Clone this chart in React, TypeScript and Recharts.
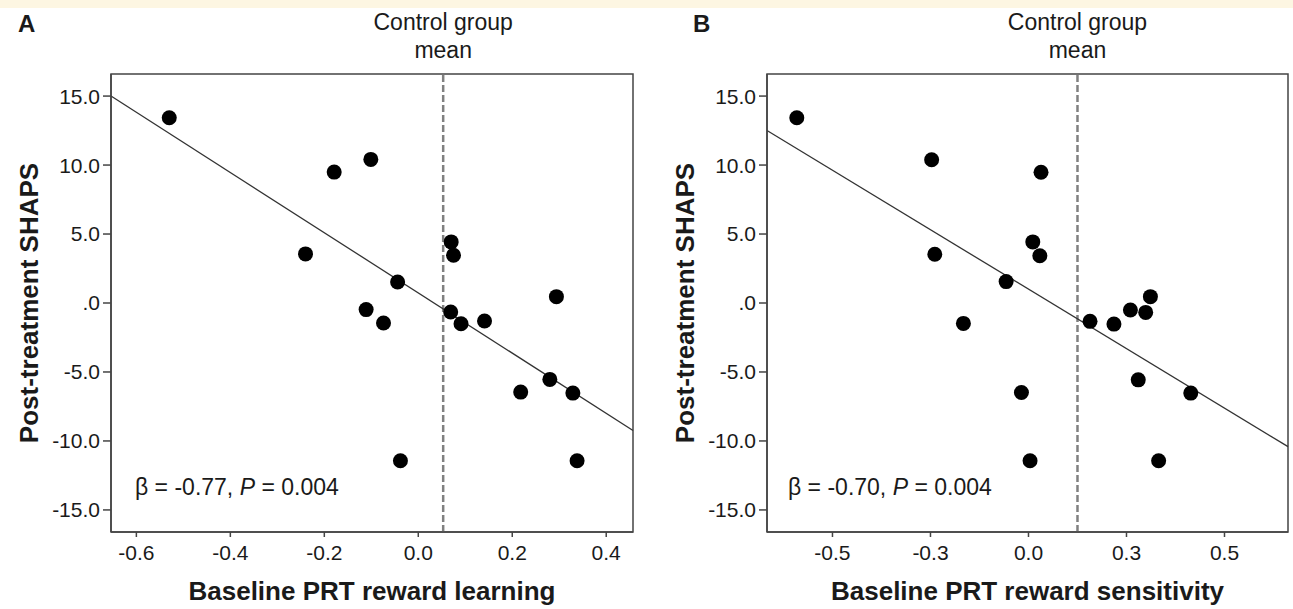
import React from "react";
import {
  ScatterChart,
  Scatter,
  XAxis,
  YAxis,
  ReferenceLine,
  ReferenceArea,
  Label,
} from "recharts";

// panel A: baseline PRT reward learning vs post-treatment SHAPS
const rewardLearning = [
  -0.53, -0.179, -0.24, -0.101, -0.044, -0.111, -0.074, 0.07, 0.075, 0.069,
  0.091, 0.141, 0.294, 0.218, 0.28, 0.329, -0.038, 0.338,
];
const shapsA = [
  13.43, 9.49, 3.56, 10.41, 1.52, -0.48, -1.45, 4.43, 3.46, -0.65, -1.5, -1.3,
  0.46, -6.46, -5.54, -6.53, -11.44, -11.44,
];
const fitA = [
  { x: -0.654, y: 15.0 },
  { x: 0.457, y: -9.24 },
];
const controlMeanA = 0.053;
const xDomainA = [-0.654, 0.457];
const xTicksA = [-0.6, -0.4, -0.2, 0, 0.2, 0.4];
const xTickLabelsA = ["-0.6", "-0.4", "-0.2", "0.0", "0.2", "0.4"];

// panel B: baseline PRT reward sensitivity vs post-treatment SHAPS
const rewardSensitivity = [
  -0.591, -0.247, -0.239, -0.166, -0.057, 0.032, 0.011, 0.029, -0.018, 0.004,
  0.157, 0.218, 0.26, 0.299, 0.311, 0.28, 0.414, 0.332,
];
const shapsB = [
  13.43, 10.38, 3.53, -1.48, 1.55, 9.48, 4.43, 3.43, -6.49, -11.44, -1.33,
  -1.53, -0.51, -0.68, 0.46, -5.57, -6.53, -11.44,
];
const fitB = [
  { x: -0.667, y: 12.5 },
  { x: 0.662, y: -10.41 },
];
const controlMeanB = 0.125;
const xDomainB = [-0.667, 0.662];
const xTicksB = [-0.5, -0.25, 0, 0.25, 0.5];
const xTickLabelsB = ["-0.5", "-0.3", "0.0", "0.3", "0.5"];

const yDomain = [-16.6, 16.6];
const yTicks = [-15, -10, -5, 0, 5, 10, 15];
const yTickLabels = ["-15.0", "-10.0", "-5.0", ".0", "5.0", "10.0", "15.0"];

const FONT = '"Liberation Sans", Arial, Helvetica, sans-serif';
const AXIS = "#444";
const INK = "#1a1a1a";

const Dot = (props: any) => <circle cx={props.cx} cy={props.cy} r={7.5} fill="#000" />;

interface PanelProps {
  xs: number[];
  ys: number[];
  fit: { x: number; y: number }[];
  mean: number;
  xDomain: number[];
  xTicks: number[];
  xTickLabels: string[];
  xTitle: string;
  width: number;
  yAxisWidth: number;
  marginRight: number;
  yTitleDx: number;
}

function Panel({
  xs, ys, fit, mean, xDomain, xTicks, xTickLabels, xTitle,
  width, yAxisWidth, marginRight, yTitleDx,
}: PanelProps) {
  const data = xs.map((x, i) => ({ x, y: ys[i] }));
  const tickStyle = { fontSize: 21, fill: INK, fontFamily: FONT };
  return (
    <ScatterChart
      width={width}
      height={609}
      margin={{ top: 74, right: marginRight, bottom: 0, left: 1 }}
    >
      <XAxis
        type="number"
        dataKey="x"
        domain={xDomain}
        allowDataOverflow
        ticks={xTicks}
        interval={0}
        tickFormatter={(v: number) => xTickLabels[xTicks.indexOf(v)] ?? String(v)}
        height={77}
        tick={tickStyle}
        tickSize={5}
        tickMargin={8}
        axisLine={{ stroke: AXIS, strokeWidth: 1.5 }}
        tickLine={{ stroke: AXIS, strokeWidth: 1.5 }}
      >
        <Label
          value={xTitle}
          position="insideBottom"
          offset={9}
          style={{ fontSize: 26, fontWeight: 700, fill: INK, fontFamily: FONT }}
        />
      </XAxis>
      <YAxis
        type="number"
        dataKey="y"
        domain={yDomain}
        allowDataOverflow
        ticks={yTicks}
        interval={0}
        tickFormatter={(v: number) => yTickLabels[yTicks.indexOf(v)] ?? String(v)}
        width={yAxisWidth}
        tick={tickStyle}
        tickSize={8}
        tickMargin={3}
        axisLine={{ stroke: AXIS, strokeWidth: 1.5 }}
        tickLine={{ stroke: AXIS, strokeWidth: 1.5 }}
      >
        <Label
          value="Post-treatment SHAPS"
          position="center"
          angle={-90}
          dx={yTitleDx}
          style={{ fontSize: 26, fontWeight: 700, fill: INK, fontFamily: FONT }}
        />
      </YAxis>
      <ReferenceArea
        x1={xDomain[0]}
        x2={xDomain[1]}
        y1={yDomain[0]}
        y2={yDomain[1]}
        fill="none"
        stroke={AXIS}
        strokeWidth={1.5}
        ifOverflow="visible"
      />
      <ReferenceLine
        x={mean}
        stroke="#808080"
        strokeWidth={2.5}
        strokeDasharray="7 3"
      >
        <Label
          value="Control group"
          position="top"
          offset={44}
          style={{ fontSize: 23, fill: INK, fontFamily: FONT }}
        />
        <Label
          value="mean"
          position="top"
          offset={16}
          style={{ fontSize: 23, fill: INK, fontFamily: FONT }}
        />
      </ReferenceLine>
      <ReferenceLine
        segment={fit}
        stroke="#333"
        strokeWidth={1.3}
        ifOverflow="visible"
      />
      <Scatter data={data} shape={Dot} isAnimationActive={false} />
    </ScatterChart>
  );
}

export default function App() {
  const noteStyle = { fontSize: 23, fill: INK, fontFamily: FONT };
  return (
    <div
      style={{
        position: "absolute",
        left: 0,
        top: 0,
        width: 1293,
        height: 609,
        background: "#fff",
        overflow: "hidden",
      }}
    >
      <div style={{ position: "absolute", left: 0, top: 0, width: 1293, height: 8, background: "#fdf6e2" }} />
      <div style={{ position: "absolute", left: 0, top: 0 }}>
        <Panel
          xs={rewardLearning}
          ys={shapsA}
          fit={fitA}
          mean={controlMeanA}
          xDomain={xDomainA}
          xTicks={xTicksA}
          xTickLabels={xTickLabelsA}
          xTitle="Baseline PRT reward learning"
          width={650}
          yAxisWidth={110}
          marginRight={17}
          yTitleDx={-27}
        />
      </div>
      <div style={{ position: "absolute", left: 650, top: 0 }}>
        <Panel
          xs={rewardSensitivity}
          ys={shapsB}
          fit={fitB}
          mean={controlMeanB}
          xDomain={xDomainB}
          xTicks={xTicksB}
          xTickLabels={xTickLabelsB}
          xTitle="Baseline PRT reward sensitivity"
          width={643}
          yAxisWidth={116}
          marginRight={5}
          yTitleDx={-24}
        />
      </div>
      <svg
        width={1293}
        height={609}
        style={{ position: "absolute", left: 0, top: 0, pointerEvents: "none" }}
      >
        <text x={18} y={32} style={{ fontSize: 24, fontWeight: 700, fill: INK, fontFamily: FONT }}>A</text>
        <text x={693} y={32} style={{ fontSize: 24, fontWeight: 700, fill: INK, fontFamily: FONT }}>B</text>
        <text x={135} y={495} style={noteStyle}>
          β = -0.77, <tspan fontStyle="italic">P</tspan> = 0.004
        </text>
        <text x={788} y={495} style={noteStyle}>
          β = -0.70, <tspan fontStyle="italic">P</tspan> = 0.004
        </text>
      </svg>
    </div>
  );
}
